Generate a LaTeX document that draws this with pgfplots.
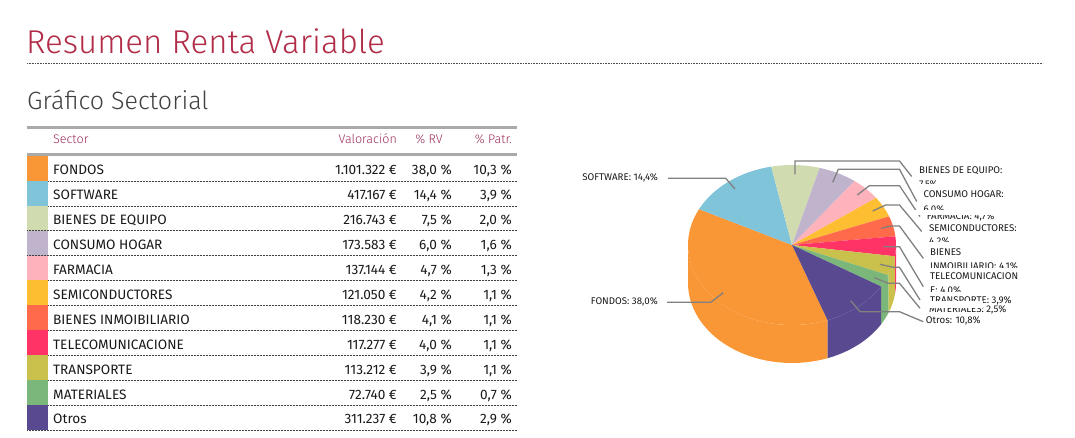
\documentclass[border=0pt]{standalone}
\usepackage{pgfplots}
\pgfplotsset{compat=1.18}
\usepackage{pgfplotstable}
\usepackage{fontspec}
\setmainfont{Fira Sans}
\IfFontExistsTF{Fira Sans Light}{\newfontfamily\lightfont{Fira Sans Light}}{\newfontfamily\lightfont{Fira Sans}}

\definecolor{cFondos}{RGB}{249,150,54}
\definecolor{cSoftware}{RGB}{128,196,218}
\definecolor{cBienesEq}{RGB}{209,219,176}
\definecolor{cConsumo}{RGB}{192,180,205}
\definecolor{cFarmacia}{RGB}{253,178,188}
\definecolor{cSemi}{RGB}{253,190,50}
\definecolor{cInmob}{RGB}{255,107,74}
\definecolor{cTele}{RGB}{255,51,102}
\definecolor{cTransp}{RGB}{201,193,75}
\definecolor{cMat}{RGB}{123,183,122}
\definecolor{cOtros}{RGB}{88,73,145}
\definecolor{titlered}{RGB}{176,44,72}
\definecolor{headred}{RGB}{155,45,90}
\definecolor{leadergray}{RGB}{128,128,128}
\definecolor{bargray}{RGB}{170,170,170}
\definecolor{txt}{RGB}{25,25,25}

\pgfplotstableread[col sep=semicolon]{
name;val;rv;patr;col
FONDOS;1.101.322;38.0;10.3;cFondos
SOFTWARE;417.167;14.4;3.9;cSoftware
BIENES DE EQUIPO;216.743;7.5;2.0;cBienesEq
CONSUMO HOGAR;173.583;6.0;1.6;cConsumo
FARMACIA;137.144;4.7;1.3;cFarmacia
SEMICONDUCTORES;121.050;4.2;1.1;cSemi
BIENES INMOIBILIARIO;118.230;4.1;1.1;cInmob
TELECOMUNICACIONE;117.277;4.0;1.1;cTele
TRANSPORTE;113.212;3.9;1.1;cTransp
MATERIALES;72.740;2.5;0.7;cMat
Otros;311.237;10.8;2.9;cOtros
}\sectores

\newcommand\pct[1]{\pgfmathprintnumber[fixed,fixed zerofill,precision=1,use comma,assume math mode=true]{#1}\ \%}

\def\total{0}
\pgfplotsforeachungrouped \i in {0,...,10}{%
  \pgfplotstablegetelem{\i}{rv}\of\sectores
  \pgfmathsetmacro\total{\total+\pgfplotsretval}}

\def\cx{792}\def\cy{245}\def\rx{104}\def\ry{80}\def\depth{38}

\begin{document}
\begin{tikzpicture}[
  rowtext/.style={font=\fontsize{13.6bp}{15bp}\selectfont, text=txt, inner sep=0pt},
  headtext/.style={font=\lightfont\fontsize{12.5bp}{14bp}\selectfont, text=headred, inner sep=0pt},
  pielab/.style={font=\fontsize{9.7bp}{11bp}\selectfont, text=txt, inner sep=0pt, anchor=base west},
  leader/.style={draw=leadergray, line width=1.3bp},
  rowdots/.style={draw=black!75, line width=0.7bp, dash pattern=on 0.7bp off 0.8bp},
]
\begin{axis}[x=1bp, y=1bp, y dir=reverse, xmin=0, xmax=1075, ymin=0, ymax=438,
  hide axis, clip=false, anchor=south west, at={(0,0)}]
\path (axis cs:0,0) rectangle (axis cs:1075,438);

% titles
\node[anchor=base west, inner sep=0pt, text=titlered, font=\lightfont\fontsize{33bp}{37bp}\selectfont] at (axis cs:26,53.5) {Resumen Renta Variable};
\draw[draw=black!70, line width=0.8bp, dash pattern=on 0.7bp off 0.9bp] (axis cs:27,63.5) -- (axis cs:1043,63.5);
\node[anchor=base west, inner sep=0pt, text=black!75, font=\lightfont\fontsize{25bp}{28bp}\selectfont] at (axis cs:27,109.5) {Gráfico Sectorial};

% table header
\fill[bargray] (axis cs:27,126) rectangle (axis cs:517,129);
\fill[bargray] (axis cs:27,153.3) rectangle (axis cs:517,156);
\node[headtext, anchor=base west] at (axis cs:53,144) {Sector};
\node[headtext, anchor=base east] at (axis cs:397,144) {Valoración};
\node[headtext, anchor=base east] at (axis cs:443,144) {\% RV};
\node[headtext, anchor=base east] at (axis cs:512,144) {\% Patr.};

% table rows
\pgfplotsforeachungrouped \i in {0,...,10}{%
  \pgfplotstablegetelem{\i}{name}\of\sectores \let\rowname\pgfplotsretval
  \pgfplotstablegetelem{\i}{val}\of\sectores \let\rowval\pgfplotsretval
  \pgfplotstablegetelem{\i}{rv}\of\sectores \let\rowrv\pgfplotsretval
  \pgfplotstablegetelem{\i}{patr}\of\sectores \let\rowpatr\pgfplotsretval
  \pgfplotstablegetelem{\i}{col}\of\sectores \let\rowcol\pgfplotsretval
  \pgfmathsetmacro\ytop{156+24.9*\i}%
  \pgfmathsetmacro\ybot{181+24.9*\i}%
  \pgfmathsetmacro\ybase{175+24.9*\i}%
  \edef\temp{%
    \noexpand\fill[\rowcol] (axis cs:27,\ytop) rectangle (axis cs:47.5,\ybot);
    \noexpand\draw[rowdots] (axis cs:27,\ybot) -- (axis cs:517,\ybot);
    \noexpand\node[rowtext,anchor=base west] at (axis cs:53,\ybase) {\rowname};
    \noexpand\node[rowtext,anchor=base east] at (axis cs:397,\ybase) {\rowval\ €};
    \noexpand\node[rowtext,anchor=base east] at (axis cs:452,\ybase) {\noexpand\pct{\rowrv}};
    \noexpand\node[rowtext,anchor=base east] at (axis cs:512,\ybase) {\noexpand\pct{\rowpatr}};
  }\temp
}

% pie: front walls
\def\curang{290}
\pgfplotsforeachungrouped \i in {0,...,10}{%
  \pgfplotstablegetelem{\i}{rv}\of\sectores \let\sliceval\pgfplotsretval
  \pgfplotstablegetelem{\i}{col}\of\sectores \let\slicecol\pgfplotsretval
  \pgfmathsetmacro\angA{\curang}%
  \pgfmathsetmacro\angB{\curang-360*\sliceval/\total}%
  \pgfmathsetmacro\wa{max(\angB,-180)}%
  \pgfmathsetmacro\wb{min(\angA,0)}%
  \ifdim\wb pt>\wa pt\relax
    \edef\temp{\noexpand\fill[\slicecol] (axis cs:\cx,\cy) ++(\wb:\rx bp and \ry bp) arc[start angle=\wb,end angle=\wa,x radius=\rx bp,y radius=\ry bp] -- ++(0,-\depth bp) arc[start angle=\wa,end angle=\wb,x radius=\rx bp,y radius=\ry bp] -- cycle;}\temp
  \fi
  \pgfmathsetmacro\wa{max(\angB,180)}%
  \pgfmathsetmacro\wb{min(\angA,360)}%
  \ifdim\wb pt>\wa pt\relax
    \edef\temp{\noexpand\fill[\slicecol] (axis cs:\cx,\cy) ++(\wb:\rx bp and \ry bp) arc[start angle=\wb,end angle=\wa,x radius=\rx bp,y radius=\ry bp] -- ++(0,-\depth bp) arc[start angle=\wa,end angle=\wb,x radius=\rx bp,y radius=\ry bp] -- cycle;}\temp
  \fi
  \let\curang\angB
}
% pie: top faces
\def\curang{290}
\pgfplotsforeachungrouped \i in {0,...,10}{%
  \pgfplotstablegetelem{\i}{rv}\of\sectores \let\sliceval\pgfplotsretval
  \pgfplotstablegetelem{\i}{col}\of\sectores \let\slicecol\pgfplotsretval
  \pgfmathsetmacro\angA{\curang}%
  \pgfmathsetmacro\angB{\curang-360*\sliceval/\total}%
  \edef\temp{\noexpand\fill[\slicecol] (axis cs:\cx,\cy) -- ++(\angA:\rx bp and \ry bp) arc[start angle=\angA,end angle=\angB,x radius=\rx bp,y radius=\ry bp] -- cycle;}\temp
  \let\curang\angB
}

% leader lines
\draw[leader] (axis cs:668,178.3) -- (axis cs:725.7,178.3) -- (axis cs:735,189);
\draw[leader] (axis cs:667,302.3) -- (axis cs:710.7,302.3) -- (axis cs:723.3,292.7);
\draw[leader] (axis cs:795,174.3) -- (axis cs:795,161) -- (axis cs:899.5,161) -- (axis cs:911.7,176.5);
\draw[leader] (axis cs:832.7,182.3) -- (axis cs:838.3,169.3) -- (axis cs:899.5,169.3) -- (axis cs:916.7,201.5);
\draw[leader] (axis cs:857.3,195) -- (axis cs:869.3,185.7) -- (axis cs:899.5,185.7) -- (axis cs:920,216.5);
\draw[leader] (axis cs:872.7,211) -- (axis cs:885.7,205) -- (axis cs:899.5,205) -- (axis cs:921.7,231.5);
\draw[leader] (axis cs:881,228.3) -- (axis cs:891.7,226) -- (axis cs:899.5,226) -- (axis cs:923.3,258.3);
\draw[leader] (axis cs:883.3,246.7) -- (axis cs:899.5,246.7) -- (axis cs:923.3,286.7);
\draw[leader] (axis cs:880,264.3) -- (axis cs:893.3,267.3) -- (axis cs:899.5,267.3) -- (axis cs:920,300);
\draw[leader] (axis cs:874.3,277.7) -- (axis cs:888.3,283.3) -- (axis cs:899.5,283.3) -- (axis cs:920,308.3);
\draw[leader] (axis cs:850.7,300.7) -- (axis cs:860,311.7) -- (axis cs:899.5,311.7) -- (axis cs:923.3,321.7);

% left labels
\node[pielab, anchor=base east] at (axis cs:658,180.5) {SOFTWARE: 14,4\%};
\node[pielab, anchor=base east] at (axis cs:658,305) {FONDOS: 38,0\%};

% right labels: lines that are partly hidden
\node[pielab] at (axis cs:919,187.4) {7,5\%};
\node[pielab] at (axis cs:923.3,212.7) {6,0\%};
\node[pielab] at (axis cs:926.7,219.6) {FARMACIA: 4,7\%};
\node[pielab] at (axis cs:929,245) {4,2\%};
\node[pielab] at (axis cs:930,270) {INMOIBILIARIO: 4,1\%};
\node[pielab] at (axis cs:930,293.4) {E: 4,0\%};
\fill[white] (axis cs:914,184) rectangle (axis cs:1010,190.2);
\fill[white] (axis cs:914,209.6) rectangle (axis cs:1010,214.6);
\fill[white] (axis cs:924,242.3) rectangle (axis cs:1010,248.8);
\fill[white] (axis cs:924,268) rectangle (axis cs:1040,273);
\fill[white] (axis cs:924,291.7) rectangle (axis cs:1010,296.5);
% right labels: first lines
\node[pielab] at (axis cs:919,173.3) {BIENES DE EQUIPO:};
\node[pielab] at (axis cs:923.3,197.7) {CONSUMO HOGAR:};
\node[pielab] at (axis cs:929,231.7) {SEMICONDUCTORES:};
\node[pielab] at (axis cs:930,256) {BIENES};
\node[pielab] at (axis cs:930,280) {TELECOMUNICACION};
\node[pielab] at (axis cs:930,303.4) {TRANSPORTE: 3,9\%};
\node[pielab] at (axis cs:929,313) {MATERIALES: 2,5\%};
\fill[white] (axis cs:924,300.7) rectangle (axis cs:983,308.3);
\node[pielab] at (axis cs:925.7,324) {Otros: 10,8\%};
\end{axis}
\end{tikzpicture}
\end{document}
